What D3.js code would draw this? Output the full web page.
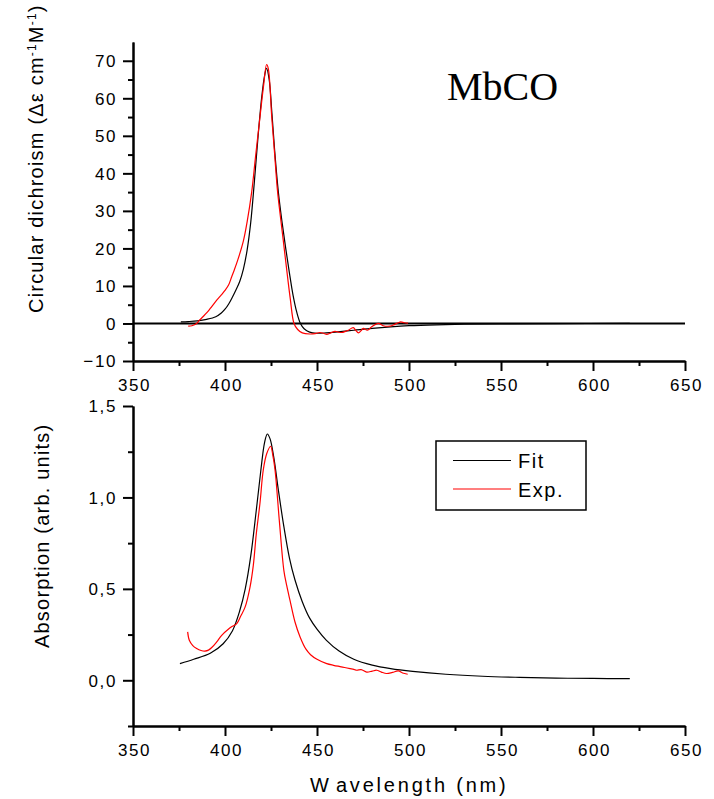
<!DOCTYPE html>
<html>
<head>
<meta charset="utf-8">
<script src="https://cdn.jsdelivr.net/npm/d3@7"></script>
<style>
  body { margin: 0; background: #fff; }
  svg { display: block; }
  .lbl { font-family: "Liberation Sans", Arial, sans-serif; font-size: 20px; fill: #000; }
</style>
</head>
<body>
<div id="chart"></div>
<script>
// CD spectrum, fit (black)
const cdFitNm  = [376, 380, 385, 390, 395, 398, 400, 402, 404, 406, 408, 410, 412, 414, 416, 418, 420, 421.5, 422.6, 424, 425.5, 427, 429, 431, 433, 435, 437, 439, 441, 443, 446, 450, 455, 460, 470, 480, 490, 500, 515, 530, 550, 580, 620];
const cdFitVal = [0.4, 0.5, 0.7, 1.1, 1.8, 2.8, 3.8, 5.2, 7.0, 9.0, 11.2, 14.5, 19.5, 27, 38, 50, 60.5, 66, 68, 65, 56, 46, 35, 27, 20, 13.5, 7.5, 3, 0, -1.4, -2.3, -2.6, -2.5, -2.3, -1.8, -1.3, -0.9, -0.6, -0.35, -0.2, -0.1, -0.03, 0];

// CD spectrum, experiment (red)
const cdExpNm  = [380, 382, 384.6, 386, 388, 390, 392, 395.5, 398, 400, 402, 403.6, 405, 407, 410, 412, 414.5, 416.5, 419, 421, 422.6, 423.5, 425.4, 427, 428.4, 429.5, 431.7, 434, 435.5, 437.5, 439.5, 442, 446, 449, 451.6, 453.5, 455.3, 457.5, 459.8, 461.6, 463.4, 465.5, 467, 469.7, 471, 472.5, 474, 475.2, 477.4, 479.7, 483.3, 486, 489.7, 492, 494.2, 495.5, 497.5, 499.5];
const cdExpVal = [-0.7, -0.6, 0, 0.8, 1.8, 2.8, 4.0, 6.2, 7.6, 8.8, 10.3, 12.4, 14.2, 17, 22, 27, 35, 44, 55, 63.5, 69, 68, 55, 45, 36, 31, 22, 12.4, 6.5, 0, -1.6, -2.5, -2.8, -2.7, -2.4, -2.6, -2.9, -2.5, -2.1, -2.3, -2.4, -2.1, -1.8, -1.1, -1.8, -2.5, -1.9, -1.3, -1.8, -0.9, 0, -0.6, -0.7, -0.3, 0.2, 0.4, 0.2, 0.1];

// Absorption, fit (black)
const absFitNm  = [375.5, 383, 392, 399, 404, 408, 411, 414, 417, 419.5, 421.5, 423, 424.5, 426.5, 429, 432, 435, 438, 442, 446, 450, 455, 462, 470, 480, 490, 502, 520, 540, 560, 580, 600, 620];
const absFitVal = [0.091, 0.115, 0.148, 0.20, 0.27, 0.38, 0.50, 0.68, 0.93, 1.15, 1.30, 1.347, 1.32, 1.22, 1.04, 0.84, 0.67, 0.55, 0.43, 0.34, 0.28, 0.22, 0.16, 0.115, 0.083, 0.064, 0.049, 0.033, 0.022, 0.016, 0.012, 0.01, 0.009];

// Absorption, experiment (red)
const absExpNm  = [379.7, 380.6, 382.5, 384.6, 387, 389.1, 391, 392.8, 395.5, 398.2, 401.8, 404, 406.4, 408.5, 410.9, 413.6, 415.4, 417, 419, 420.8, 422.7, 424.8, 426, 427.2, 429.5, 432, 433.5, 435.3, 438, 440.8, 444, 446.5, 450, 455.3, 459, 462.5, 465, 468, 470, 471.6, 474, 477, 480, 482.4, 485, 487.8, 491, 494.2, 496.5, 499.3];
const absExpVal = [0.265, 0.219, 0.19, 0.174, 0.163, 0.16, 0.165, 0.179, 0.21, 0.246, 0.279, 0.295, 0.31, 0.35, 0.40, 0.51, 0.63, 0.80, 0.968, 1.15, 1.24, 1.28, 1.23, 1.15, 0.876, 0.60, 0.52, 0.438, 0.32, 0.237, 0.17, 0.14, 0.115, 0.091, 0.082, 0.075, 0.07, 0.064, 0.06, 0.055, 0.058, 0.045, 0.05, 0.055, 0.045, 0.037, 0.043, 0.051, 0.04, 0.033];

const xTicks = [350, 400, 450, 500, 550, 600, 650];
const xMinor = [375, 425, 475, 525, 575, 625];
const cdTicks = [-10, 0, 10, 20, 30, 40, 50, 60, 70];
const cdMinor = [-5, 5, 15, 25, 35, 45, 55, 65];
const absTicks = [0, 0.5, 1.0, 1.5];
const absMinor = [-0.25, 0.25, 0.75, 1.25];
const legendLabels = ['Fit', 'Exp.'];
const legendColors = ['#000', '#ff0000'];

const width = 714, height = 799;

const svg = d3.select('#chart').append('svg')
    .attr('width', width)
    .attr('height', height);

const x = d3.scaleLinear().domain([350, 650]).range([133, 685]);
const yCD = d3.scaleLinear().domain([-10, 75]).range([361, 42]);
const yAbs = d3.scaleLinear().domain([-0.25, 1.5]).range([726, 406]);

const zip = (a, b) => a.map((v, i) => [v, b[i]]);

function styleLabels(sel) {
    sel.selectAll('.tick text')
        .style('font-family', '"Liberation Sans", Arial, sans-serif')
        .style('font-size', '17px')
        .style('letter-spacing', '1.6px')
        .attr('fill', '#000');
}

function drawPanel(y, bottomY, ticks, minor, fmt) {
    const g = svg.append('g');

    // minor ticks first
    g.append('g').attr('transform', `translate(0,${bottomY})`)
        .call(d3.axisBottom(x).tickValues(xMinor).tickSize(5).tickSizeOuter(0).tickFormat(''));
    g.append('g').attr('transform', 'translate(133,0)')
        .call(d3.axisLeft(y).tickValues(minor).tickSize(5).tickSizeOuter(0).tickFormat(''));

    const xa = g.append('g').attr('transform', `translate(0,${bottomY})`)
        .call(d3.axisBottom(x).tickValues(xTicks).tickSize(10).tickSizeOuter(0).tickPadding(8));
    styleLabels(xa);
    xa.selectAll('.tick text').attr('dx', '1px');

    const ya = g.append('g').attr('transform', 'translate(133,0)')
        .call(d3.axisLeft(y).tickValues(ticks).tickSize(10).tickSizeOuter(0).tickPadding(6).tickFormat(fmt));
    styleLabels(ya);
    ya.selectAll('.tick text').attr('dy', '0.34em');

    g.selectAll('.domain').attr('stroke', '#000').attr('stroke-width', 2);
    g.selectAll('.tick line').attr('stroke', '#000').attr('stroke-width', 2);
    return g;
}

const lineGen = (y) => d3.line()
    .x(d => x(d[0]))
    .y(d => y(d[1]))
    .curve(d3.curveCatmullRom.alpha(0.5));

// ---- Top panel: CD
const cdPanel = drawPanel(yCD, 361, cdTicks, cdMinor, d3.format('d'));

cdPanel.append('line')
    .attr('x1', x(350)).attr('x2', x(650))
    .attr('y1', yCD(0)).attr('y2', yCD(0))
    .attr('stroke', '#000').attr('stroke-width', 2);

cdPanel.append('path')
    .datum(zip(cdFitNm, cdFitVal))
    .attr('d', lineGen(yCD))
    .attr('fill', 'none').attr('stroke', '#000').attr('stroke-width', 1.2);

cdPanel.append('path')
    .datum(zip(cdExpNm, cdExpVal))
    .attr('d', lineGen(yCD))
    .attr('fill', 'none').attr('stroke', '#ff0000').attr('stroke-width', 1.2);

cdPanel.append('text')
    .attr('x', 447).attr('y', 100)
    .style('font-family', '"Liberation Serif", "Times New Roman", serif')
    .style('font-size', '40px')
    .text('MbCO');

// y title, top
const t1 = svg.append('text').attr('class', 'lbl')
    .attr('transform', 'translate(43,313) rotate(-90)')
    .style('letter-spacing', '1.2px');
t1.append('tspan').text('Circular dichroism (Δε cm');
t1.append('tspan').attr('dy', '-7').style('font-size', '12px').text('-1');
t1.append('tspan').attr('dy', '7').text('M');
t1.append('tspan').attr('dy', '-7').style('font-size', '12px').text('-1');
t1.append('tspan').attr('dy', '7').text(')');

// ---- Bottom panel: absorption
const commaFmt = v => d3.format('.1f')(v).replace('.', ',');
const absPanel = drawPanel(yAbs, 726, absTicks, absMinor, commaFmt);

absPanel.append('path')
    .datum(zip(absFitNm, absFitVal))
    .attr('d', lineGen(yAbs))
    .attr('fill', 'none').attr('stroke', '#000').attr('stroke-width', 1.2);

absPanel.append('path')
    .datum(zip(absExpNm, absExpVal))
    .attr('d', lineGen(yAbs))
    .attr('fill', 'none').attr('stroke', '#ff0000').attr('stroke-width', 1.2);

svg.append('text').attr('class', 'lbl')
    .attr('transform', 'translate(49,648) rotate(-90)')
    .style('letter-spacing', '1.2px')
    .text('Absorption (arb. units)');

// x title
const xt = svg.append('text').attr('class', 'lbl')
    .attr('x', 310).attr('y', 792)
    .style('letter-spacing', '2.8px');
xt.append('tspan').text('W');
xt.append('tspan').attr('dx', '5').text('avelength (nm)');

// legend
const legend = svg.append('g');
legend.append('rect')
    .attr('x', 436).attr('y', 441).attr('width', 150).attr('height', 69)
    .attr('fill', 'none').attr('stroke', '#000').attr('stroke-width', 1.5);
legendLabels.forEach((name, i) => {
    const ly = 460.5 + i * 28.5;
    legend.append('line')
        .attr('x1', 453).attr('x2', 511).attr('y1', ly).attr('y2', ly)
        .attr('stroke', legendColors[i]).attr('stroke-width', 1.2);
    legend.append('text').attr('class', 'lbl')
        .attr('x', 518).attr('y', ly + 7.5)
        .style('letter-spacing', '1.5px')
        .text(name);
});
</script>
</body>
</html>
